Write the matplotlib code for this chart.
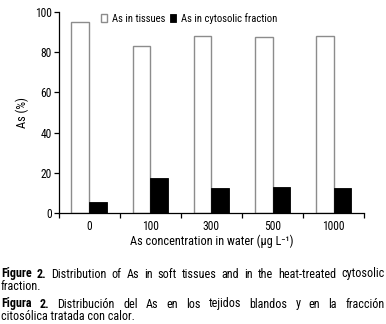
import matplotlib
matplotlib.use('Agg')
import matplotlib.pyplot as plt
import numpy as np

# Data
concentrations = ['0', '100', '300', '500', '1000']
as_tissues = [95.0, 83.1, 88.1, 87.6, 88.1]
as_cytosolic = [5.5, 17.5, 12.5, 13.0, 12.5]

caption_en = [('Figure 2.', 'bold'), ('Distribution of As in soft tissues and in the heat-treated cytosolic', 'normal')]
caption_en_end = 'fraction.'
caption_es = [('Figura 2.', 'bold'), ('Distribución del As en los tejidos blandos y en la fracción', 'normal')]
caption_es_end = 'citosólica tratada con calor.'

FONT = ['Roboto Condensed', 'Archivo Narrow', 'Liberation Sans', 'DejaVu Sans']
plt.rcParams['font.family'] = FONT

W, H = 386, 324
fig = plt.figure(figsize=(W / 100, H / 100), dpi=100)

# axes box in pixels: left 58.5, right 364.3, top 11.7, bottom 213.3
ax = fig.add_axes([58.5 / W, (H - 213.3) / H, (364.3 - 58.5) / W, (213.3 - 11.7) / H])

x = np.arange(len(concentrations))
bw = 0.29
ax.bar(x - bw / 2, as_tissues, bw, color='white', edgecolor='#8c8c8c', linewidth=1.0,
       label='As in tissues')
ax.bar(x + bw / 2, as_cytosolic, bw, color='black', edgecolor='black', linewidth=0.6,
       label='As in cytosolic fraction')

ax.set_xlim(-0.5, len(concentrations) - 0.5)
ax.set_ylim(0, 100)
ax.set_yticks([0, 20, 40, 60, 80, 100])
ax.tick_params(axis='y', length=3.5, width=0.9, labelsize=8.3, pad=1.5)

ax.set_xticks(x)
ax.set_xticklabels(concentrations)
ax.tick_params(axis='x', which='major', length=0, labelsize=8.3, pad=4.5)
ax.set_xticks(np.arange(-0.5, len(concentrations)), minor=True)
ax.tick_params(axis='x', which='minor', length=3.5, width=0.9)

for s in ['top', 'right']:
    ax.spines[s].set_visible(False)
for s in ['left', 'bottom']:
    ax.spines[s].set_linewidth(0.9)

ax.set_ylabel('As (%)', fontsize=8.8, labelpad=4)
ax.set_xlabel('As concentration in water (\u00b5g L\u207b\u00b9)', fontsize=8.8, labelpad=1.5,
              family=FONT)

leg = ax.legend(loc='upper left', bbox_to_anchor=(41 / 305.8, 1.0), ncol=2, frameon=False,
                fontsize=7.7, handlelength=0.6, handleheight=0.9, handletextpad=0.45,
                columnspacing=0.45, borderaxespad=0, borderpad=0.1)

# caption, justified like the source page
renderer = fig.canvas.get_renderer()
CAP_SIZE = 8.7


def word_width(word, weight):
    t = fig.text(0, 0, word, fontsize=CAP_SIZE, fontweight=weight)
    w = t.get_window_extent(renderer).width
    t.remove()
    return w


def justify(y_px, segments, x0=1.0, x1=384.5):
    words = []
    for txt, weight in segments:
        for w in txt.split(' '):
            words.append((w, weight))
    widths = [word_width(w, wt) for w, wt in words]
    gap = ((x1 - x0) - sum(widths)) / (len(words) - 1)
    xp = x0
    for (w, wt), wd in zip(words, widths):
        fig.text(xp / W, 1 - y_px / H, w, fontsize=CAP_SIZE, fontweight=wt, va='baseline')
        xp += wd + gap


justify(277.5, caption_en)
fig.text(1 / W, 1 - 290.5 / H, caption_en_end, fontsize=CAP_SIZE, va='baseline')
justify(307.5, caption_es)
fig.text(1 / W, 1 - 320 / H, caption_es_end, fontsize=CAP_SIZE, va='baseline')

fig.savefig('out.png', dpi=100)
